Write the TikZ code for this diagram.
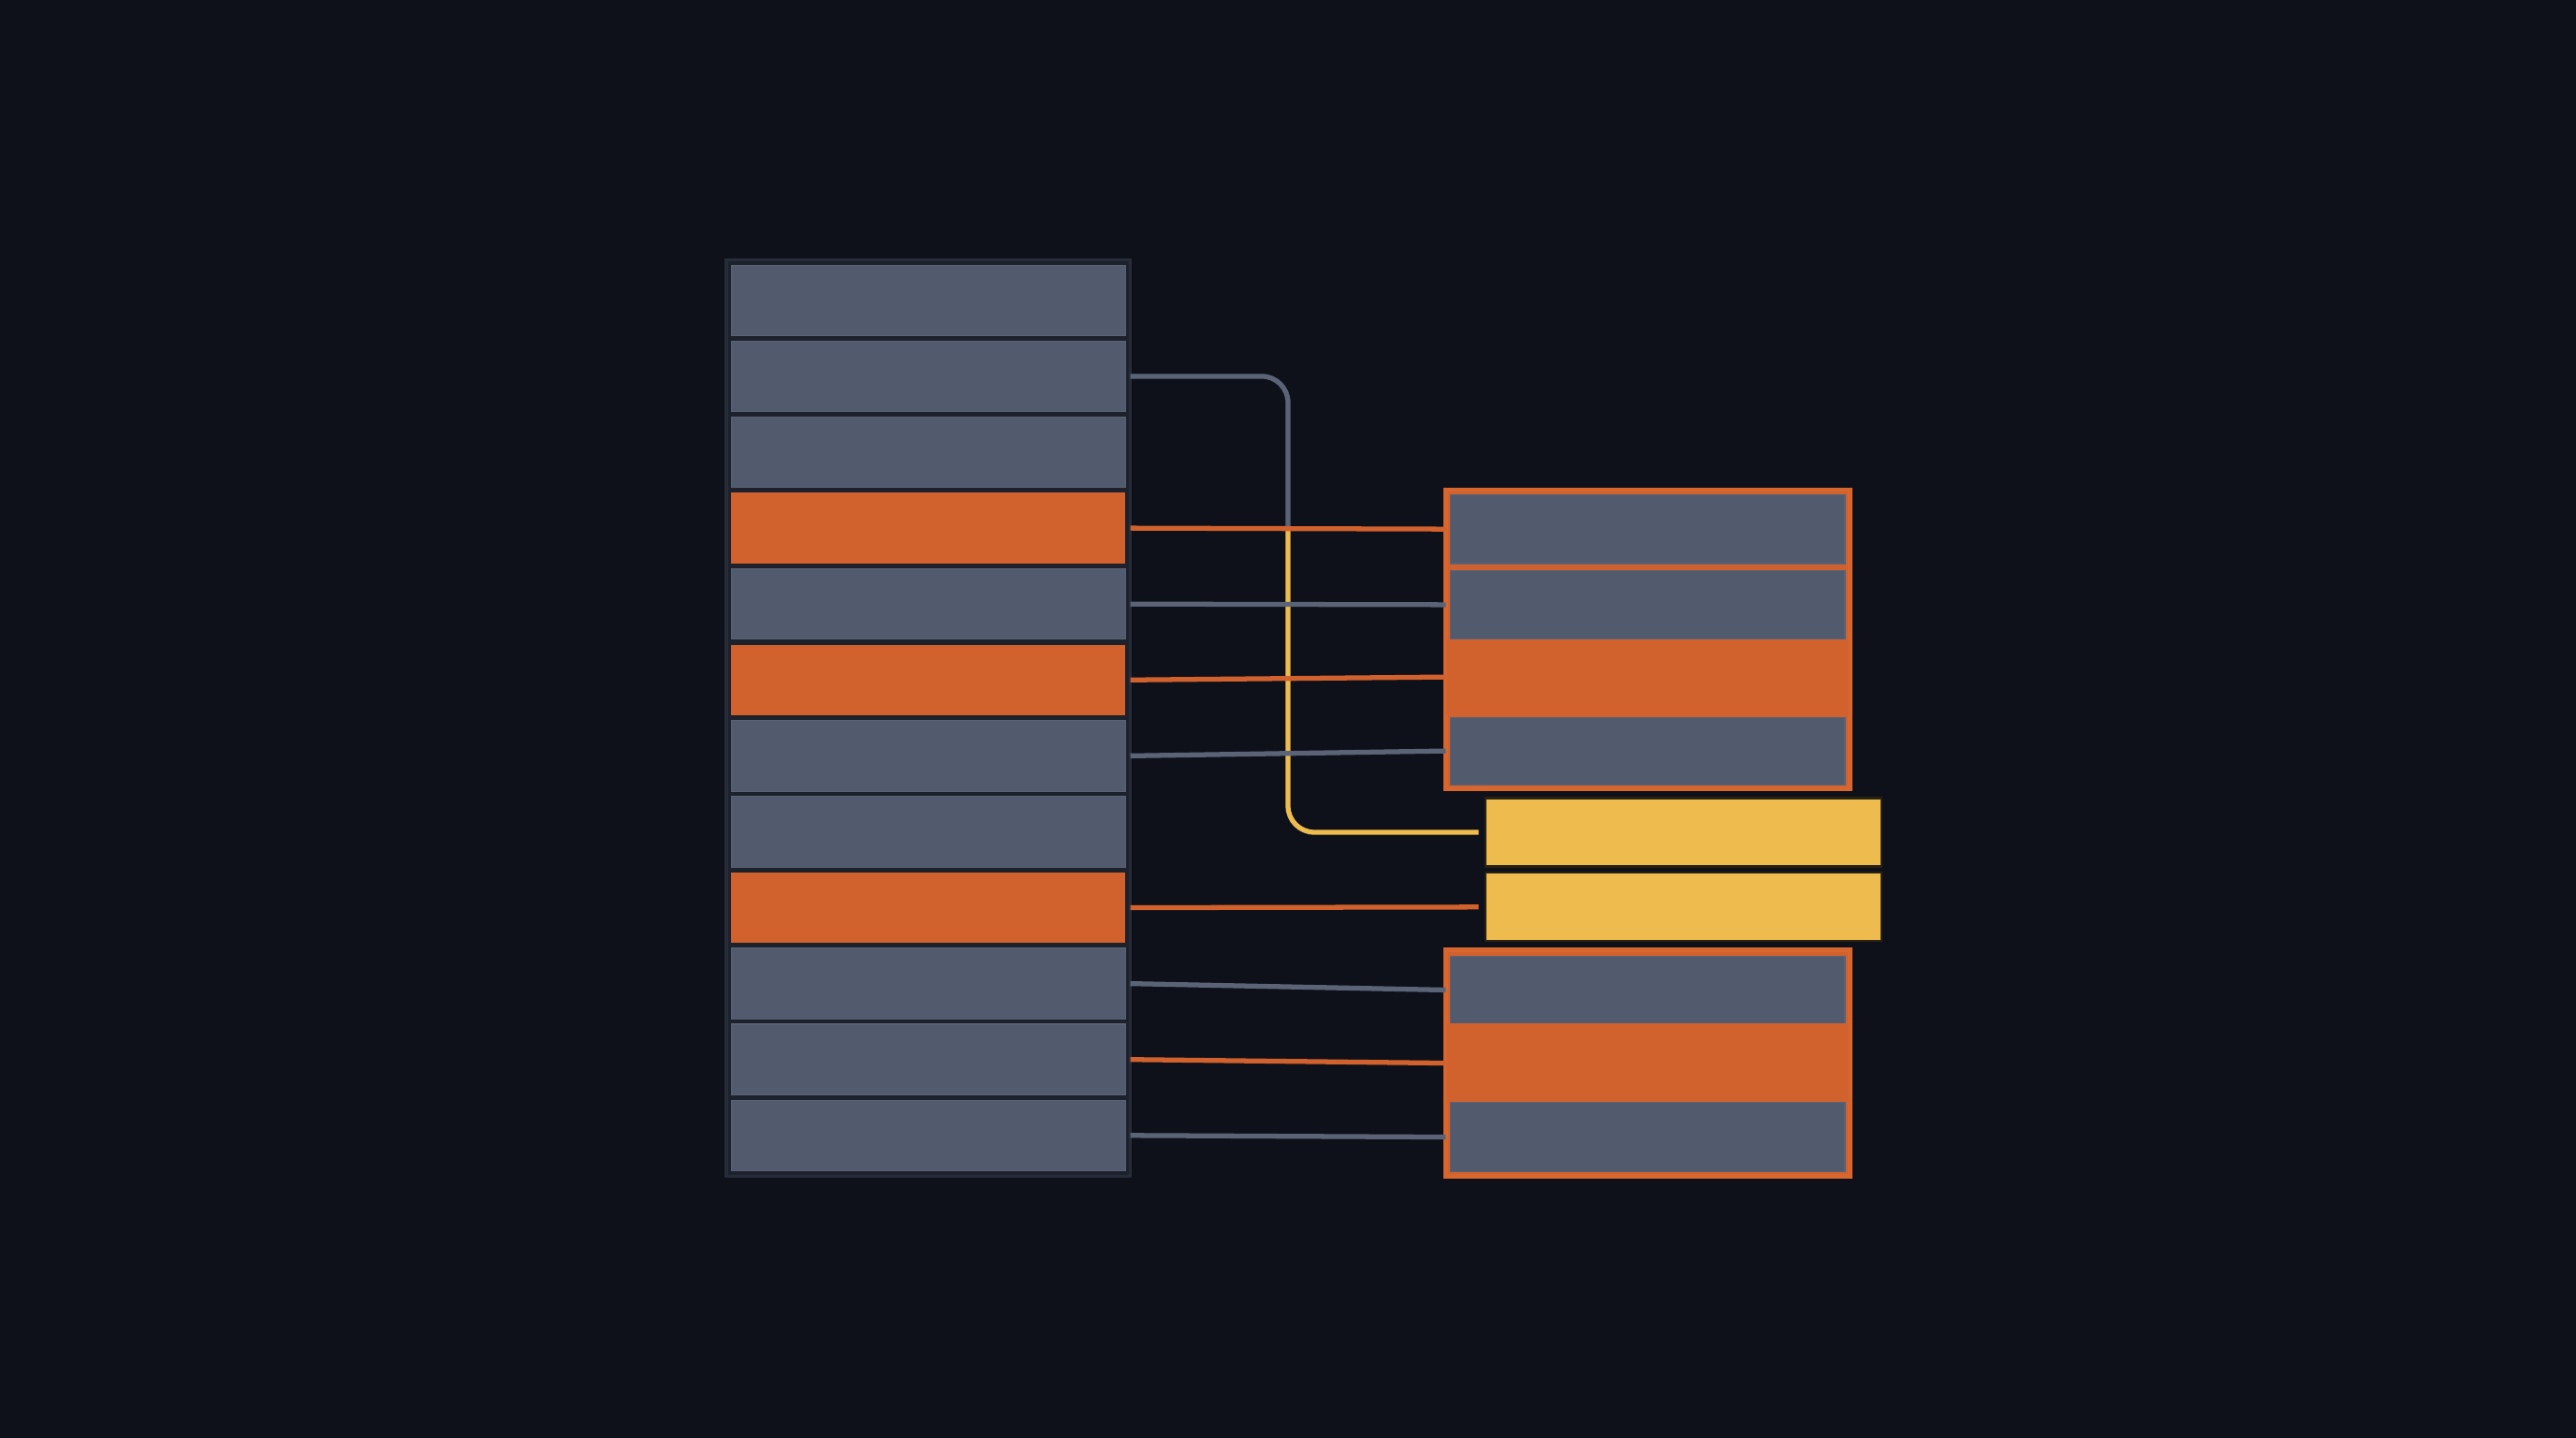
\documentclass[tikz,border=0pt]{standalone}
\definecolor{bg}{HTML}{0F111A}
\definecolor{frameFill}{HTML}{1D212C}
\definecolor{frameEdge}{HTML}{272C39}
\definecolor{rowgray}{HTML}{525B6E}
\definecolor{rowgrayedge}{HTML}{5A6376}
\definecolor{orng}{HTML}{D1612D}
\definecolor{orngedge}{HTML}{D8672F}
\definecolor{yel}{HTML}{EEBC4E}
\definecolor{yeledge}{HTML}{2A2210}
\definecolor{wgray}{HTML}{5B6477}
\begin{document}
\begin{tikzpicture}[x=0.5pt,y=-0.5pt,
  box/.style={rectangle, inner sep=0pt, outer sep=0pt, minimum width=120pt, minimum height=21.5pt},
  grayrow/.style={box, fill=rowgray, draw=rowgrayedge, line width=0.3pt},
  orangerow/.style={box, fill=orng},
  yelrow/.style={box, fill=yel, draw=yeledge, line width=0.6pt, minimum width=120.5pt, minimum height=20.8pt},
  rframe/.style={box, minimum width=123pt, fill=orng, draw=orngedge, line width=1.3pt},
  wire/.style={line width=1.5pt}]
\fill[bg] (0,0) rectangle (1568,875);
\useasboundingbox (0,0) rectangle (1568,875);

% left column
\node[box, minimum width=123pt, minimum height=279pt, fill=frameFill, draw=frameEdge, line width=1pt] (LF) at (565,437) {};
\foreach \i/\c in {1/grayrow,2/grayrow,3/grayrow,4/orangerow,5/grayrow,6/orangerow,7/grayrow,8/grayrow,9/orangerow,10/grayrow,11/grayrow,12/grayrow}
  \node[\c] (L\i) at (565,{182.8+(\i-1)*46.2}) {};

% right box 1
\node[rframe, minimum height=91pt] (RF1) at (1003,389) {};
\node[grayrow, minimum height=21pt] (R1a) at (1003,322) {};
\node[grayrow, minimum height=21pt] (R1b) at (1003,368) {};
\node[orangerow, minimum width=122pt, minimum height=23pt] (R1c) at (1003,412) {};
\node[grayrow, minimum height=20.5pt] (R1d) at (1003,457) {};

% yellow boxes
\node[yelrow] (Y1) at (1024.5,506.5) {};
\node[yelrow] (Y2) at (1024.5,552) {};

% right box 2
\node[rframe, minimum height=69pt] (RF2) at (1003,647) {};
\node[grayrow, minimum height=20.5pt] (R2a) at (1003,602.5) {};
\node[orangerow, minimum width=122pt, minimum height=24pt] (R2b) at (1003,647) {};
\node[grayrow, minimum height=21pt] (R2c) at (1003,692) {};

% connectors
\coordinate (J) at (784,322);
\draw[wire, wgray, rounded corners=8pt] (L2.east -| LF.east) -| (J);
\draw[wire, yel, rounded corners=8pt] (J) |- ([xshift=-2pt]Y1.west);
\draw[wire, orng] (L4.east -| LF.east) -- (R1a.west -| RF1.west);
\draw[wire, wgray] (L5.east -| LF.east) -- (R1b.west -| RF1.west);
\draw[wire, orng] (L6.east -| LF.east) -- (R1c.west -| RF1.west);
\draw[wire, wgray] (L7.east -| LF.east) -- (R1d.west -| RF1.west);
\draw[wire, orng] (L9.east -| LF.east) -- ([xshift=-2pt]Y2.west);
\draw[wire, wgray] (L10.east -| LF.east) -- (R2a.west -| RF2.west);
\draw[wire, orng] (L11.east -| LF.east) -- (R2b.west -| RF2.west);
\draw[wire, wgray] (L12.east -| LF.east) -- (R2c.west -| RF2.west);
\end{tikzpicture}
\end{document}
